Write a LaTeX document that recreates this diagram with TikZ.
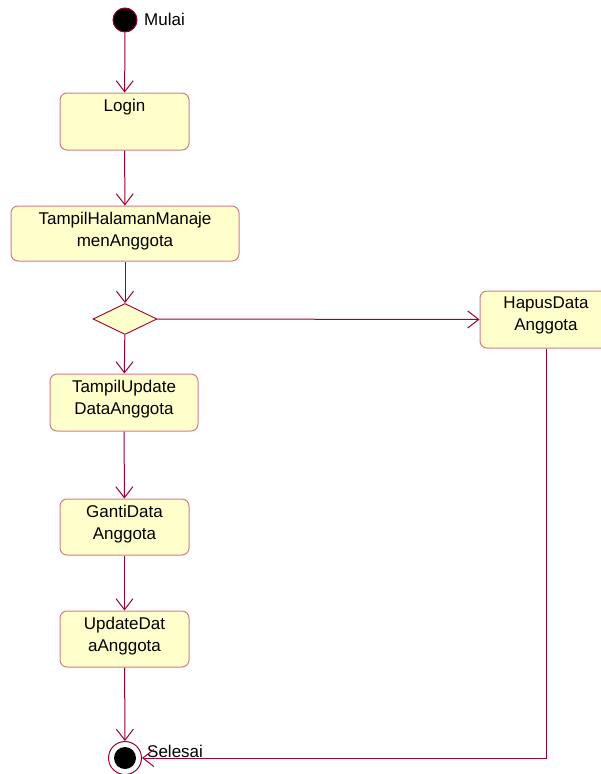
\documentclass[tikz,border=0pt]{standalone}
\usepackage{fontspec}
\setmainfont{Liberation Sans}
\usepackage{tikz}
\usetikzlibrary{arrows.meta, positioning, shapes.geometric}

\definecolor{umlline}{HTML}{990033}
\definecolor{umlborder}{HTML}{D07C8C}
\definecolor{umlfill}{HTML}{FFFFCC}

\begin{document}
\begin{tikzpicture}[
    act/.style={draw=umlborder, fill=umlfill, rounded corners=7pt,
                line width=1pt, inner sep=0pt},
    lbl/.style={font=\fontsize{17}{22}\selectfont, align=center,
                anchor=north, inner sep=0pt, yshift=-6pt},
    arr/.style={-{Straight Barb[length=11pt, width=17pt, line width=1pt]},
                draw=umlline, line width=1pt},
    x=1pt, y=-1pt
  ]
  \useasboundingbox (0,0) rectangle (600,774);

  % start and end
  \node[circle, fill=black, draw=umlline, line width=1pt,
    minimum size=24pt, inner sep=0pt] (mulai) at (125,20) {};
  \node[font=\fontsize{17}{22}\selectfont, anchor=west, inner sep=0pt]
    (mulailbl) at (144,19) {Mulai};
  \node[circle, draw=umlline, line width=1pt, minimum size=33pt,
    inner sep=0pt] (selesai) at (125,758) {};
  \node[circle, fill=black, minimum size=22pt, inner sep=0pt]
    (selesaidot) at (selesai.center) {};
  \node[font=\fontsize{17}{22}\selectfont, anchor=west, inner sep=0pt]
    (selesailbl) at (147,751) {Selesai};

  % activities
  \node[act, minimum width=129pt, minimum height=57pt,
    label={[lbl]north:Login}] (login) at (124.5,121.5) {};
  \node[act, minimum width=228pt, minimum height=55pt,
    label={[lbl]north:TampilHalamanManaje\\menAnggota}] (tampil) at (125,233.5) {};
  \node[diamond, draw=umlline, fill=umlfill, line width=0.9pt, aspect=2,
    minimum width=64pt, minimum height=31pt, inner sep=0pt] (pilih) at (125,319) {};
  \node[act, minimum width=132pt, minimum height=57pt,
    label={[lbl]north:HapusData\\Anggota}] (hapus) at (546,319.5) {};
  \node[act, minimum width=148pt, minimum height=57pt,
    label={[lbl]north:TampilUpdate\\DataAnggota}] (tampilupd) at (124,402.5) {};
  \node[act, minimum width=129pt, minimum height=56pt,
    label={[lbl]north:GantiData\\Anggota}] (ganti) at (124.5,527) {};
  \node[act, minimum width=129pt, minimum height=56pt,
    label={[lbl]north:UpdateDat\\aAnggota}] (update) at (124.5,639) {};

  \draw[arr] (mulai) -- (login);
  \draw[arr] (login) -- (tampil);
  \draw[arr] (tampil) -- (pilih);
  \draw[arr] (pilih) -- (tampilupd);
  \draw[arr] (pilih.east) -- (hapus.west);
  \draw[arr] (tampilupd) -- (ganti);
  \draw[arr] (ganti) -- (update);
  \draw[arr] (update) -- (selesai);
  \draw[arr] (hapus.south) |- (selesai.east);
\end{tikzpicture}
\end{document}
